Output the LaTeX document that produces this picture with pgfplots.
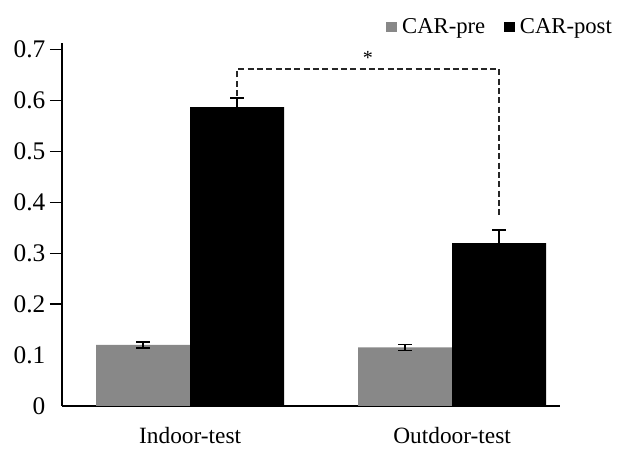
\documentclass[border=0pt]{standalone}
\usepackage{fontspec}
\setmainfont{Liberation Serif}
\usepackage{pgfplots}
\pgfplotsset{compat=1.18}
\definecolor{pregray}{RGB}{136,136,136}
\begin{document}
\begin{tikzpicture}
\begin{axis}[
  at={(0,0)}, anchor=south west,
  scale only axis,
  width=373.5pt, height=272.25pt,
  xmin=-0.489, xmax=1.412,
  ymin=0, ymax=0.713,
  ybar=0pt, bar width=70.5pt,
  axis x line*=bottom, axis y line*=left,
  axis line style={line width=1.1pt, black},
  xtick={0,1}, xticklabels={Indoor-test,Outdoor-test},
  xtick style={draw=none},
  xticklabel style={anchor=base, yshift=-19pt, font=\fontsize{17.5}{19}\selectfont},
  ytick={0.2,0.3,0.4,0.5,0.6,0.7},
  yticklabels={0.2,0.3,0.4,0.5,0.6,0.7},
  extra y ticks={0,0.1},
  extra y tick labels={0,0.1},
  extra y tick style={ytick style={draw=none}},
  ytick style={line width=1.1pt, black},
  tick align=outside, major tick length=9pt,
  yticklabel style={font=\fontsize{19}{21}\selectfont, xshift=0pt},
  /pgf/number format/assume math mode=true,
  legend columns=2,
  legend style={at={(rel axis cs:1.11,1.044)}, anchor=east, draw=none, inner sep=0pt,
    font=\fontsize{17}{19}\selectfont,
    /tikz/every even column/.append style={column sep=12pt}},
  legend image code/.code={\fill[#1] (0pt,-4.1pt) rectangle (8.2pt,4.1pt); \path (10pt,0);},
  clip=false,
]
\addplot[fill=pregray, draw=none,
  error bars/.cd, y dir=both, y explicit,
  error bar style={line width=1.1pt, black},
  error mark options={rotate=90, mark size=5pt, line width=1.1pt, black}]
  coordinates {(0,0.120) +- (0,0.006) (1,0.115) +- (0,0.006)};
\addlegendentry{CAR-pre}
\addplot[fill=black, draw=none,
  error bars/.cd, y dir=both, y explicit,
  error bar style={line width=1.1pt, black},
  error mark options={rotate=90, mark size=5pt, line width=1.1pt, black}]
  coordinates {(0,0.587) +- (0,0.018) (1,0.320) +- (0,0.0255)};
\addlegendentry{CAR-post}
\draw[line width=1.2pt, dash pattern=on 4.5pt off 2.5pt, black!85]
  (axis cs:0.18,0.609) |- (axis cs:1.18,0.662) -- (axis cs:1.18,0.373);
\node[font=\fontsize{15}{16}\selectfont] at (axis cs:0.679,0.684) {*};
\end{axis}
\pgfresetboundingbox
\path[use as bounding box] (-46.5pt,-32.25pt) rectangle (416.25pt,304.5pt);
\end{tikzpicture}
\end{document}
